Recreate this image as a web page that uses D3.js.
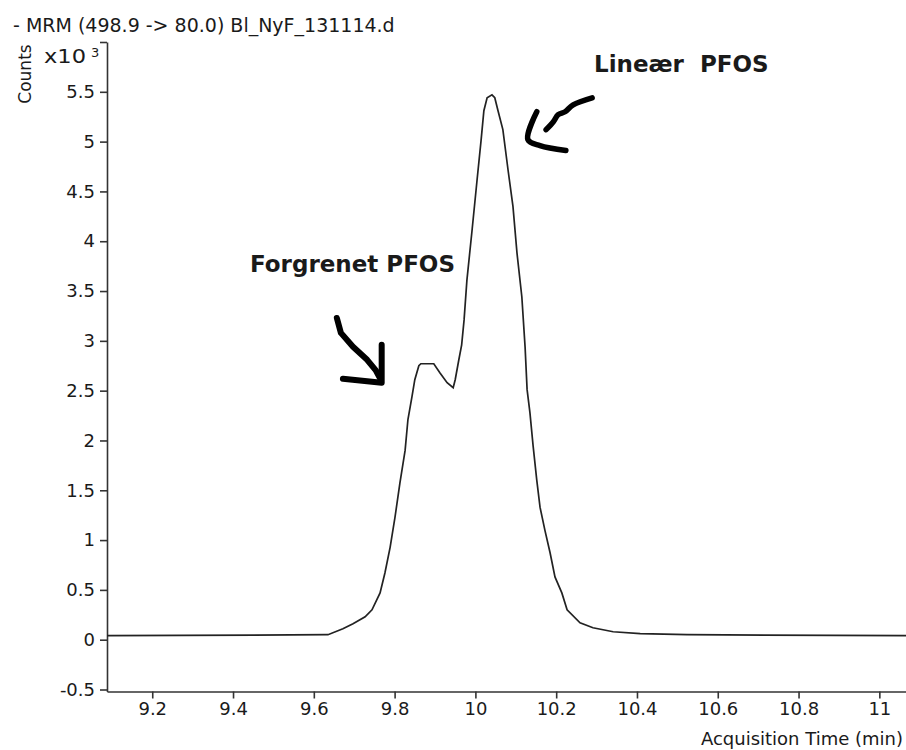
<!DOCTYPE html>
<html>
<head>
<meta charset="utf-8">
<script src="https://cdn.jsdelivr.net/npm/d3@7"></script>
<style>
  body { margin: 0; background: #fff; }
  svg { display: block; }
</style>
</head>
<body>
<svg id="chart" width="906" height="750"></svg>
<script>
// Chromatogram: acquisition time (min) vs counts (x10^3)
const times = [9.088, 9.635, 9.672, 9.697, 9.727, 9.744, 9.764, 9.776, 9.789, 9.801, 9.813,
  9.826, 9.833, 9.843, 9.850, 9.860, 9.865, 9.897, 9.912, 9.930, 9.945, 9.950, 9.959,
  9.966, 9.972, 9.979, 9.992, 10.004, 10.014, 10.021, 10.029, 10.041, 10.048, 10.056,
  10.068, 10.081, 10.093, 10.103, 10.115, 10.123, 10.128, 10.135, 10.143, 10.152,
  10.160, 10.172, 10.185, 10.197, 10.214, 10.227, 10.259, 10.291, 10.341, 10.408,
  10.524, 11.066];
const counts = [0.04, 0.05, 0.11, 0.16, 0.23, 0.30, 0.47, 0.67, 0.93, 1.23, 1.57,
  1.90, 2.21, 2.44, 2.61, 2.75, 2.77, 2.77, 2.68, 2.58, 2.53, 2.61, 2.81,
  2.96, 3.21, 3.61, 4.12, 4.61, 5.01, 5.31, 5.44, 5.47, 5.44, 5.31,
  5.12, 4.71, 4.35, 3.88, 3.44, 2.94, 2.51, 2.28, 1.94, 1.60,
  1.33, 1.10, 0.87, 0.63, 0.47, 0.30, 0.17, 0.12, 0.08, 0.06,
  0.05, 0.04];

const xTicks = [9.2, 9.4, 9.6, 9.8, 10, 10.2, 10.4, 10.6, 10.8, 11];
const xTickLabels = ["9.2", "9.4", "9.6", "9.8", "10", "10.2", "10.4", "10.6", "10.8", "11"];
const yTicks = [-0.5, 0, 0.5, 1, 1.5, 2, 2.5, 3, 3.5, 4, 4.5, 5, 5.5, 6];
const yTickLabels = ["-0.5", "0", "0.5", "1", "1.5", "2", "2.5", "3", "3.5", "4", "4.5", "5", "5.5", ""];

// hand-drawn annotation arrows, in data units (time, counts)
const arrowBranchedShaft = [[9.657, 3.23], [9.667, 3.08], [9.697, 2.94], [9.732, 2.81], [9.754, 2.70], [9.766, 2.61]];
const arrowBranchedHead = [[9.672, 2.62], [9.768, 2.58], [9.768, 2.96]];
const arrowLinearShaft = [[10.289, 5.44], [10.242, 5.37], [10.222, 5.30], [10.205, 5.27], [10.193, 5.20], [10.175, 5.12]];
const arrowLinearHead = [[10.152, 5.30], [10.130, 5.02], [10.160, 4.96], [10.224, 4.91]];

const data = times.map((t, i) => ({ t: t, v: counts[i] }));

const svg = d3.select("#chart");
const font = "'DejaVu Sans', sans-serif";
const ink = "#1a1a1a";

// scales
const x = d3.scaleLinear().domain([9.088, 11.066]).range([107, 906]);
const y = d3.scaleLinear().domain([-0.52, 6.0]).range([691.5, 42]);

// axes
const xAxis = d3.axisBottom(x)
  .tickValues(xTicks)
  .tickFormat((d, i) => xTickLabels[i])
  .tickSize(7)
  .tickPadding(4)
  .tickSizeOuter(0);

const yAxis = d3.axisLeft(y)
  .tickValues(yTicks)
  .tickFormat((d, i) => yTickLabels[i])
  .tickSize(7)
  .tickPadding(5)
  .tickSizeOuter(0);

const gx = svg.append("g")
  .attr("transform", `translate(0, ${ y(-0.52) })`)
  .call(xAxis);

const gy = svg.append("g")
  .attr("transform", `translate(${ x(9.088) }, 0)`)
  .call(yAxis);

[gx, gy].forEach(g => {
  g.select(".domain").attr("stroke", "#333").attr("stroke-width", 1.6);
  g.selectAll(".tick line").attr("stroke", "#333").attr("stroke-width", 1.6);
  g.selectAll(".tick text")
    .attr("font-family", font)
    .attr("font-size", "18px")
    .attr("fill", ink);
});

// the trace
const line = d3.line()
  .x(d => x(d.t))
  .y(d => y(d.v));

svg.append("path")
  .datum(data)
  .attr("fill", "none")
  .attr("stroke", "#222")
  .attr("stroke-width", 1.7)
  .attr("d", line);

// title and axis labels
svg.append("text")
  .attr("x", 13)
  .attr("y", 32)
  .attr("font-family", font)
  .attr("font-size", "19px")
  .attr("fill", ink)
  .text("- MRM (498.9 -> 80.0) Bl_NyF_131114.d");

svg.append("text")
  .attr("transform", "rotate(-90)")
  .attr("x", -74)
  .attr("y", 31)
  .attr("text-anchor", "middle")
  .attr("font-family", font)
  .attr("font-size", "17px")
  .attr("fill", ink)
  .text("Counts");

svg.append("text")
  .attr("x", 44)
  .attr("y", 63)
  .attr("font-family", font)
  .attr("font-size", "19px")
  .attr("textLength", 42)
  .attr("lengthAdjust", "spacingAndGlyphs")
  .attr("fill", ink)
  .text("x10");

svg.append("text")
  .attr("x", 91)
  .attr("y", 57)
  .attr("font-family", font)
  .attr("font-size", "13px")
  .attr("fill", ink)
  .text("3");

svg.append("text")
  .attr("x", 903)
  .attr("y", 745)
  .attr("text-anchor", "end")
  .attr("font-family", font)
  .attr("font-size", "18px")
  .attr("fill", ink)
  .text("Acquisition Time (min)");

// annotations
const arrowLine = d3.line()
  .x(d => x(d[0]))
  .y(d => y(d[1]))
  .curve(d3.curveCatmullRom);

[arrowBranchedShaft, arrowBranchedHead].forEach(pts => {
  svg.append("path")
    .attr("d", d3.line().x(d => x(d[0])).y(d => y(d[1]))(pts))
    .attr("fill", "none")
    .attr("stroke", "#000")
    .attr("stroke-width", 6)
    .attr("stroke-linecap", "round")
    .attr("stroke-linejoin", "round");
});

[arrowLinearShaft, arrowLinearHead].forEach(pts => {
  svg.append("path")
    .attr("d", arrowLine(pts))
    .attr("fill", "none")
    .attr("stroke", "#000")
    .attr("stroke-width", 5.5)
    .attr("stroke-linecap", "round")
    .attr("stroke-linejoin", "round");
});

svg.append("text")
  .attr("x", 250)
  .attr("y", 272)
  .attr("font-family", font)
  .attr("font-weight", "bold")
  .attr("font-size", "23px")
  .attr("fill", ink)
  .text("Forgrenet PFOS");

svg.append("text")
  .attr("x", 594)
  .attr("y", 72)
  .attr("font-family", font)
  .attr("font-weight", "bold")
  .attr("font-size", "23px")
  .attr("fill", ink)
  .style("white-space", "pre")
  .text("Lineær  PFOS");
</script>
</body>
</html>
